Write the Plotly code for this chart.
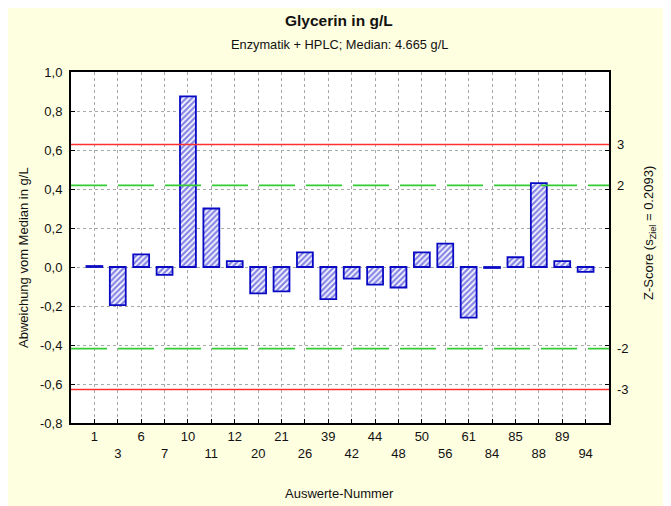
import plotly.graph_objects as go

labels = ["1", "3", "6", "7", "10", "11", "12", "20", "21", "26", "39", "42",
          "44", "48", "50", "56", "61", "84", "85", "88", "89", "94"]
values = [0.005, -0.195, 0.065, -0.04, 0.875, 0.30, 0.03, -0.135, -0.125, 0.075,
          -0.165, -0.06, -0.09, -0.105, 0.075, 0.12, -0.26, -0.005, 0.05, 0.43,
          0.03, -0.025]
median = 4.665
s_ziel = 0.2093
y_ticks = [-0.8, -0.6, -0.4, -0.2, 0.0, 0.2, 0.4, 0.6, 0.8, 1.0]
y_ticktext = ["-0,8", "-0,6", "-0,4", "-0,2", "0,0", "0,2", "0,4", "0,6", "0,8", "1,0"]
z_ticks = [-3, -2, 2, 3]
z_ticktext = ["-3", "-2", "2", "3"]

pos = list(range(1, len(labels) + 1))
xticktext = [lab if i % 2 == 0 else "<br>" + lab for i, lab in enumerate(labels)]

FONT = "Liberation Sans, Arial, Helvetica, sans-serif"

# page is offset by the 8px body margin, so the figure is 8px smaller
W, H = 663, 498
L, T = 63, 64
PW, PH = 538, 351

fig = go.Figure()
fig.add_trace(go.Bar(
    x=pos, y=values, width=0.68,
    marker=dict(color="white",
                line=dict(color="#0a0ac4", width=1.8),
                pattern=dict(shape="/", fgcolor="#1010cc", bgcolor="white",
                             size=4, solidity=0.6)),
    showlegend=False, hoverinfo="x+y",
))
fig.add_trace(go.Scatter(x=[pos[0]], y=[0], yaxis="y2", mode="markers",
                         marker=dict(opacity=0), showlegend=False, hoverinfo="skip"))

for k, col, dash in [(3, "#ff3030", "solid"), (2, "#33cc33", "36px,11px")]:
    for sgn in (1, -1):
        fig.add_shape(type="line", xref="paper", x0=0, x1=1, yref="y",
                      y0=sgn * k * s_ziel, y1=sgn * k * s_ziel,
                      line=dict(color=col, width=1.6, dash=dash), layer="above")

def py(page_y):
    return (423 - page_y) / PH

def px(page_x):
    return (page_x - 71) / PW

fig.update_layout(
    width=W, height=H,
    margin=dict(l=L, r=W - L - PW, t=T, b=H - T - PH),
    paper_bgcolor="#fefee0", plot_bgcolor="white",
    font=dict(family=FONT, size=12, color="#111111"),
    xaxis=dict(range=[0, len(labels) + 1], tickmode="array", tickvals=pos,
               ticktext=xticktext, ticks="inside", ticklen=4, tickcolor="black",
               showline=True, linecolor="black", linewidth=2, mirror=True,
               showgrid=True, gridcolor="#a8a8a8", griddash="dot", gridwidth=1,
               zeroline=False, tickfont=dict(size=13), automargin=False),
    yaxis=dict(range=[-0.8, 1.0], tickmode="array", tickvals=y_ticks,
               ticktext=y_ticktext, ticks="inside", ticklen=4, tickcolor="black",
               showline=True, linecolor="black", linewidth=2, mirror="ticks",
               showgrid=True, gridcolor="#a8a8a8", griddash="dot", gridwidth=1,
               zeroline=False, tickfont=dict(size=13), automargin=False,
               ticklabelstandoff=4),
    yaxis2=dict(range=[-0.8 / s_ziel, 1.0 / s_ziel], overlaying="y", side="right",
                tickmode="array", tickvals=z_ticks, ticktext=z_ticktext,
                showgrid=False, zeroline=False, showline=False, ticks="",
                tickfont=dict(size=13), automargin=False, ticklabelstandoff=7),
    annotations=[
        dict(text="<b>Glycerin in g/L</b>", xref="paper", yref="paper",
             x=px(339), y=py(20), showarrow=False, font=dict(size=15.5),
             xanchor="center", yanchor="middle"),
        dict(text="Enzymatik + HPLC; Median: %.3f g/L" % median, xref="paper", yref="paper",
             x=px(339), y=py(44), showarrow=False, font=dict(size=12.8),
             xanchor="center", yanchor="middle"),
        dict(text="Auswerte-Nummer", xref="paper", yref="paper",
             x=px(339), y=py(493), showarrow=False, font=dict(size=13),
             xanchor="center", yanchor="middle"),
        dict(text="Abweichung vom Median in g/L", xref="paper", yref="paper",
             x=px(23), y=py(258), showarrow=False, textangle=-90,
             font=dict(size=13), xanchor="center", yanchor="middle"),
        dict(text="Z-Score (s<sub>Ziel</sub> = 0.2093)", xref="paper", yref="paper",
             x=px(649), y=py(233), showarrow=False, textangle=-90,
             font=dict(size=13), xanchor="center", yanchor="middle"),
    ],
)

fig.write_html("out.html")
